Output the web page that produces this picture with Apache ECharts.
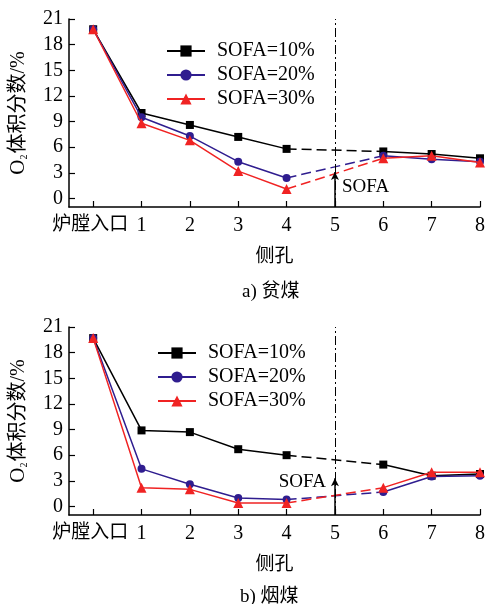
<!DOCTYPE html>
<html>
<head>
<meta charset="utf-8">
<script src="https://cdn.jsdelivr.net/npm/echarts@6/dist/echarts.min.js"></script>
<style>
  html, body { margin: 0; padding: 0; background: #fff; }
  #main { width: 488px; height: 604px; }
</style>
</head>
<body>
<div id="main"></div>
<script>
// 侧孔位置: 0 = 炉膛入口, 1..8 = 侧孔
var holes = [0, 1, 2, 3, 4, 5, 6, 7, 8];
var holeLabels = ['炉膛入口', '1', '2', '3', '4', '5', '6', '7', '8'];
var yTicks = [0, 3, 6, 9, 12, 15, 18, 21];
var names = ['SOFA=10%', 'SOFA=20%', 'SOFA=30%'];

// a) 贫煤, 位置5没有测点 (null)
var lean10 = [19.8, 10.0, 8.6, 7.2, 5.8, null, 5.5, 5.2, 4.7];
var lean20 = [19.8, 9.5, 7.3, 4.3, 2.4, null, 5.0, 4.6, 4.3];
var lean30 = [19.8, 8.8, 6.8, 3.2, 1.1, null, 4.7, 5.0, 4.2];

// b) 烟煤
var bit10 = [19.7, 8.9, 8.7, 6.7, 6.0, null, 4.9, 3.6, 3.8];
var bit20 = [19.7, 4.4, 2.6, 1.0, 0.8, null, 1.7, 3.5, 3.6];
var bit30 = [19.7, 2.2, 2.0, 0.4, 0.4, null, 2.2, 4.0, 4.0];

var colors = ['#000000', '#2f1d8f', '#f02323'];
var symbols = ['rect', 'circle', 'triangle'];
var symbolSizes = [8, 8, 10];

var serif = '"Liberation Serif", "Noto Sans CJK SC", serif';

function solidData(vals) {
  return holes.map(function (h, i) { return [h, vals[i] === null ? '-' : vals[i]]; });
}
// 4 -> 6 之间用虚线连接
function dashData(vals) {
  return [[4, vals[4]], [6, vals[6]]];
}

function makeSeries(idx, sets) {
  var out = [];
  sets.forEach(function (vals, k) {
    out.push({
      name: names[k],
      type: 'line',
      xAxisIndex: idx, yAxisIndex: idx,
      data: solidData(vals),
      symbol: symbols[k],
      symbolSize: symbolSizes[k],
      color: colors[k],
      lineStyle: { width: 1.5, color: colors[k] },
      itemStyle: { color: colors[k] },
      z: 3 + k,
      animation: false
    });
    out.push({
      name: names[k] + '_d',
      type: 'line',
      xAxisIndex: idx, yAxisIndex: idx,
      data: dashData(vals),
      showSymbol: false,
      symbol: 'none',
      lineStyle: { width: 1.5, type: [10, 5], color: colors[k] },
      z: 2 + k,
      animation: false
    });
  });
  return out;
}

function sofaMarker(idx, tip, labelY, side) {
  return {
    type: 'line',
    xAxisIndex: idx, yAxisIndex: idx,
    data: [],
    animation: false,
    markLine: {
      silent: true,
      animation: false,
      label: { show: false },
      data: [
        [{ coord: [5, -1], symbol: 'none', lineStyle: { type: [9, 3, 2, 3], width: 1, color: '#000' } },
         { coord: [5, 21], symbol: 'none' }],
        [{ coord: [5, -1], symbol: 'none', lineStyle: { type: 'solid', width: 1.5, color: '#000' } },
         { coord: [5, tip], symbol: 'arrow', symbolSize: [6, 8] }]
      ]
    },
    markPoint: {
      silent: true,
      animation: false,
      symbol: 'rect',
      symbolSize: 0,
      data: [{ coord: [5, labelY] }],
      label: {
        show: true,
        formatter: 'SOFA',
        position: side,
        distance: side === 'right' ? 7 : 9,
        color: '#000',
        fontFamily: serif,
        fontSize: 19
      }
    }
  };
}

function xAxis(idx) {
  return {
    type: 'value',
    gridIndex: idx,
    min: -0.5,
    max: 8,
    name: '侧孔',
    nameLocation: 'middle',
    nameGap: 41,
    nameTextStyle: { fontFamily: serif, fontSize: 19, color: '#000' },
    axisLine: { onZero: false, lineStyle: { color: '#000', width: 1.5 } },
    axisTick: { inside: true, length: 6, customValues: holes, lineStyle: { color: '#000', width: 1.2 } },
    axisLabel: {
      customValues: holes,
      margin: 9,
      color: '#000',
      fontFamily: serif,
      fontSize: 20,
      formatter: function (v) { return v === 0 ? '{c|' + holeLabels[v] + '}' : holeLabels[v]; },
      rich: {
        c: { fontFamily: serif, fontSize: 19, color: '#000', padding: [0, 6, 0, 0] }
      }
    },
    splitLine: { show: false }
  };
}

function yAxis(idx) {
  return {
    type: 'value',
    gridIndex: idx,
    min: -1,
    max: 21,
    name: '{o|O}{s|2}{t|体积分数/%}',
    nameLocation: 'middle',
    nameGap: 40,
    nameTextStyle: {
      color: '#000',
      rich: {
        o: { fontFamily: serif, fontSize: 21, color: '#000' },
        s: { fontFamily: serif, fontSize: 10, color: '#000', verticalAlign: 'bottom', padding: [10, 1, 0, 0] },
        t: { fontFamily: serif, fontSize: 20, color: '#000' }
      }
    },
    axisLine: { onZero: false, lineStyle: { color: '#000', width: 1.5 } },
    axisTick: { inside: true, length: 6, customValues: yTicks, lineStyle: { color: '#000', width: 1.2 } },
    axisLabel: { customValues: yTicks, margin: 6, color: '#000', fontFamily: serif, fontSize: 20 },
    splitLine: { show: false }
  };
}

function legend(left, top) {
  return {
    orient: 'vertical',
    left: left,
    top: top,
    data: names,
    itemWidth: 38,
    itemHeight: 14,
    itemGap: 4,
    selectedMode: false,
    textStyle: { fontFamily: serif, fontSize: 20, color: '#000', padding: [0, 0, 0, 7] }
  };
}

var chart = echarts.init(document.getElementById('main'));
chart.setOption({
  backgroundColor: '#fff',
  animation: false,
  title: [
    { text: 'a) 贫煤', left: 237, top: 278, textStyle: { fontFamily: serif, fontSize: 19, fontWeight: 'normal', color: '#000' } },
    { text: 'b) 烟煤', left: 235, top: 583, textStyle: { fontFamily: serif, fontSize: 19, fontWeight: 'normal', color: '#000' } }
  ],
  legend: [legend(161, 36), legend(152, 338)],
  grid: [
    { left: 64, right: 7, top: 19, height: 188 },
    { left: 64, right: 7, top: 327, height: 188 }
  ],
  xAxis: [xAxis(0), xAxis(1)],
  yAxis: [yAxis(0), yAxis(1)],
  series: []
    .concat(makeSeries(0, [lean10, lean20, lean30]))
    .concat(makeSeries(1, [bit10, bit20, bit30]))
    .concat([sofaMarker(0, 3.1, 1.3, 'right'), sofaMarker(1, 3.3, 2.9, 'left')])
});
</script>
</body>
</html>
